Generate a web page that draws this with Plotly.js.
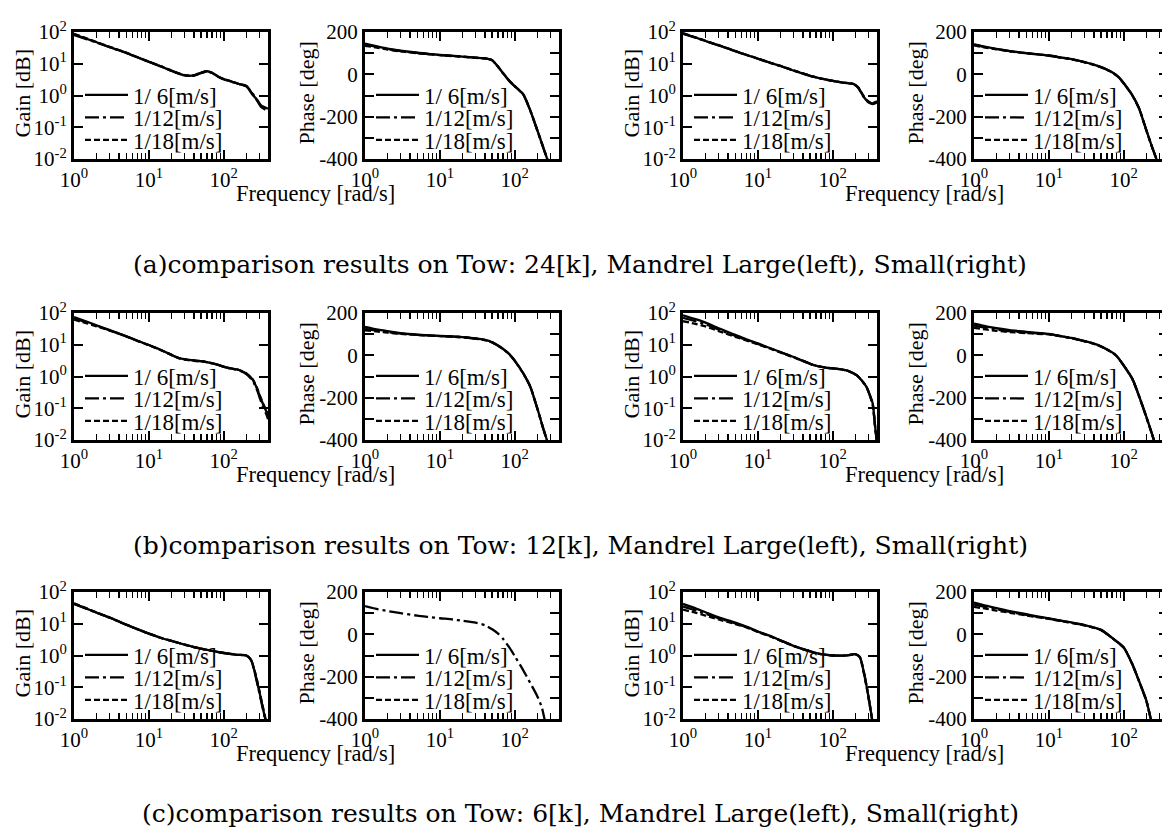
<!DOCTYPE html>
<html><head><meta charset="utf-8">
<script src="https://cdn.plot.ly/plotly-3.0.1.min.js"></script>
<style>html,body{margin:0;padding:0;overflow:hidden;background:#fff}#chart{width:1170px;height:834px}</style>
</head><body><div id="chart"></div>
<script>
// ---------- text / ticks ----------
const seriesNames = ['1/ 6[m/s]', '1/12[m/s]', '1/18[m/s]'];
const freqTicks = [1, 10, 100];
const freqTickText = ['10<sup>0</sup>', '10<sup>1</sup>', '10<sup>2</sup>'];
const freqMinorTicks = [2, 3, 4, 5, 6, 7, 8, 9, 20, 30, 40, 50, 60, 70, 80, 90, 200, 300];
const gainTicks = [0.01, 0.1, 1, 10, 100];
const gainTickText = ['10<sup>-2</sup>', '10<sup>-1</sup>', '10<sup>0</sup>', '10<sup>1</sup>', '10<sup>2</sup>'];
const phaseTicks = [-400, -200, 0, 200];
const phaseTickText = ['-400', '-200', '0', '200'];
const phaseMinorTicks = [-300, -100, 100];
const captions = [
  '(a)comparison results on Tow: 24[k], Mandrel Large(left), Small(right)',
  '(b)comparison results on Tow: 12[k], Mandrel Large(left), Small(right)',
  '(c)comparison results on Tow: 6[k], Mandrel Large(left), Small(right)'
];

// ---------- (a) Tow 24[k] ----------
const fA_LG = [1, 1.5, 2, 3, 5, 7, 10, 15, 20, 30, 40, 50, 60, 70, 85, 100, 130, 160, 200, 240, 280, 320, 360, 390];
const A_LG_6  = [85, 60, 47.5, 33.5, 22, 16, 11.5, 8.0, 6.0, 4.3, 4.3, 5.3, 5.8, 5.2, 3.9, 3.3, 2.7, 2.3, 2.0, 1.1, 0.72, 0.47, 0.42, 0.38];
const A_LG_12 = [80, 58, 46.5, 33, 21.8, 16, 11.6, 8.1, 6.1, 4.3, 4.2, 5.1, 5.7, 5.2, 3.9, 3.2, 2.7, 2.3, 2.0, 1.2, 0.68, 0.42, 0.36, 0.33];
const A_LG_18 = [88, 62, 48.5, 34, 22.3, 16.2, 11.6, 8.0, 6.0, 4.4, 4.3, 5.2, 5.8, 5.1, 3.8, 3.3, 2.7, 2.3, 1.95, 1.15, 0.7, 0.45, 0.4, 0.36];

const fA_LP = [1, 1.5, 2, 3, 5, 7, 10, 15, 20, 30, 40, 45, 50, 60, 70, 85, 100, 130, 160, 200, 240, 280];
const A_LP_6  = [145, 131, 122, 112, 102, 97, 92, 87, 84, 79, 76, 72, 67, 36, 5, -32, -56, -95, -168, -264, -345, -414];
const A_LP_12 = [140, 128, 120, 110, 101, 96, 91, 87, 84, 79, 75, 71, 66, 35, 4, -32, -57, -96, -168, -265, -346, -415];
const A_LP_18 = [135, 125, 117, 108, 100, 95, 91, 86, 83, 78, 75, 71, 66, 36, 5, -31, -56, -95, -167, -263, -344, -413];

const fA_SG = [1, 1.5, 2, 3, 5, 7, 10, 15, 20, 30, 40, 55, 70, 100, 130, 160, 190, 220, 250, 280, 310, 340, 370, 390];
const A_SG_6  = [90, 66, 52, 38, 25, 19, 14.5, 10.5, 8.6, 6.1, 4.9, 3.9, 3.4, 2.9, 2.6, 2.45, 2.3, 1.75, 1.05, 0.72, 0.6, 0.56, 0.6, 0.63];
const A_SG_12 = [88, 65, 51.5, 37.5, 24.8, 19, 14.4, 10.4, 8.5, 6.1, 4.9, 3.9, 3.4, 2.9, 2.6, 2.45, 2.3, 1.72, 1.0, 0.7, 0.58, 0.54, 0.57, 0.6];
const A_SG_18 = [92, 67, 52.5, 38.5, 25.2, 19.2, 14.6, 10.5, 8.6, 6.2, 5.0, 3.9, 3.4, 2.9, 2.6, 2.45, 2.3, 1.78, 1.08, 0.74, 0.62, 0.58, 0.62, 0.65];

const fA_SP = [1, 1.5, 2, 3, 5, 7, 10, 15, 20, 30, 40, 50, 60, 70, 85, 100, 130, 160, 200, 240, 280];
const A_SP_6  = [142, 128, 120, 110, 100, 95, 89, 79, 72, 58, 46, 34, 22, 10, -12, -42, -98, -160, -263, -345, -410];
const A_SP_12 = [140, 127, 120, 110, 100, 95, 89, 79, 72, 58, 46, 34, 22, 10, -12, -42, -98, -160, -263, -345, -410];
const A_SP_18 = [137, 125, 118, 109, 99, 94, 88, 78, 71, 57, 45, 33, 21, 9, -13, -43, -99, -161, -264, -346, -411];

// ---------- (b) Tow 12[k] ----------
const fB_LG = [1, 1.5, 2, 3, 5, 7, 10, 15, 20, 26, 40, 57, 80, 110, 160, 200, 245, 280, 310, 340, 370, 390];
const B_LG_6  = [75, 53, 41, 29, 18.5, 13.5, 9.8, 6.6, 4.8, 3.7, 3.2, 2.9, 2.4, 1.9, 1.6, 1.25, 0.78, 0.4, 0.21, 0.125, 0.08, 0.054];
const B_LG_12 = [68, 50, 40, 28.5, 18.3, 13.4, 9.8, 6.6, 4.8, 3.7, 3.2, 2.9, 2.4, 1.9, 1.55, 1.2, 0.72, 0.36, 0.18, 0.1, 0.065, 0.045];
const B_LG_18 = [62, 47, 38, 28, 18.2, 13.3, 9.7, 6.5, 4.8, 3.7, 3.1, 2.9, 2.4, 1.9, 1.6, 1.25, 0.8, 0.42, 0.22, 0.13, 0.085, 0.06];

const fB_LP = [1, 1.5, 2, 3, 5, 7, 10, 15, 20, 30, 40, 50, 60, 70, 85, 100, 130, 160, 200, 240, 280];
const B_LP_6  = [135, 121, 114, 105, 98, 95, 92, 89, 86, 80, 73, 62, 46, 30, 5, -25, -85, -145, -250, -345, -420];
const B_LP_12 = [125, 116, 110, 103, 97, 94, 91, 88, 85, 79, 72, 61, 45, 29, 4, -26, -86, -146, -251, -346, -421];
const B_LP_18 = [118, 112, 107, 101, 96, 93, 91, 88, 85, 79, 72, 61, 45, 29, 5, -25, -85, -145, -250, -345, -420];

const fB_SG = [1, 1.5, 2, 3, 5, 7, 10, 15, 20, 30, 40, 55, 80, 124, 160, 208, 250, 281, 310, 342, 370, 390];
const B_SG_6  = [85, 63, 50, 33, 20.5, 14.8, 11, 7.6, 5.9, 4.1, 3.1, 2.3, 1.9, 1.7, 1.5, 1.1, 0.7, 0.48, 0.28, 0.14, 0.024, 0.008];
const B_SG_12 = [70, 54, 44, 30, 19, 14.2, 10.6, 7.5, 5.8, 4.1, 3.1, 2.3, 1.9, 1.7, 1.5, 1.1, 0.7, 0.48, 0.27, 0.13, 0.022, 0.007];
const B_SG_18 = [55, 45, 38, 27, 17.8, 13.6, 10.3, 7.4, 5.7, 4.0, 3.1, 2.3, 1.9, 1.7, 1.5, 1.1, 0.7, 0.47, 0.27, 0.13, 0.023, 0.008];

const fB_SP = [1, 1.5, 2, 3, 5, 7, 10, 15, 20, 30, 40, 50, 60, 70, 80, 100, 130, 150, 200, 250, 270];
const B_SP_6  = [150, 136, 128, 119, 111, 106, 101, 90, 82, 67, 55, 42, 28, 14, -2, -48, -110, -165, -290, -395, -440];
const B_SP_12 = [140, 129, 122, 114, 108, 104, 100, 90, 82, 67, 55, 42, 28, 14, -2, -48, -110, -165, -290, -395, -440];
const B_SP_18 = [130, 121, 116, 110, 105, 102, 99, 89, 81, 66, 54, 41, 27, 13, -3, -49, -111, -166, -291, -396, -441];

// ---------- (c) Tow 6[k] ----------
const fC_LG = [1, 1.5, 2, 3, 5, 7, 10, 15, 20, 30, 40, 60, 100, 150, 200, 230, 260, 290, 320, 350, 380];
const C_LG_6  = [43, 29.5, 22.4, 15.6, 9.3, 6.8, 4.9, 3.5, 2.9, 2.2, 1.85, 1.5, 1.2, 1.05, 1.0, 0.75, 0.3, 0.1, 0.035, 0.013, 0.006];
const C_LG_12 = [42, 29, 22.2, 15.5, 9.3, 6.8, 4.9, 3.5, 2.9, 2.2, 1.85, 1.5, 1.2, 1.05, 1.0, 0.73, 0.28, 0.09, 0.032, 0.012, 0.005];
const C_LG_18 = [44, 30, 22.6, 15.7, 9.4, 6.8, 4.9, 3.5, 2.9, 2.2, 1.85, 1.5, 1.2, 1.05, 1.0, 0.76, 0.31, 0.11, 0.037, 0.014, 0.006];

const fC_LP = [1, 1.5, 2, 3, 5, 7, 10, 15, 20, 30, 40, 50, 60, 70, 85, 100, 130, 160, 200, 230, 250, 270];
const C_LP_6  = [];   // not drawn in the reference panel
const C_LP_12 = [133, 118, 110, 100, 88, 82, 76, 70, 64, 55, 43, 24, 3, -22, -63, -103, -170, -228, -292, -345, -400, -440];
const C_LP_18 = [];   // not drawn in the reference panel

const fC_SG = [1, 1.5, 2, 3, 5, 7, 10, 15, 20, 30, 50, 70, 100, 150, 200, 230, 260, 290, 320, 340, 370];
const C_SG_6  = [42, 30, 23, 15.8, 10.8, 8.1, 5.7, 4.0, 3.0, 2.0, 1.35, 1.1, 1.0, 1.0, 1.1, 0.9, 0.3, 0.08, 0.02, 0.008, 0.003];
const C_SG_12 = [35, 26, 20.5, 14.8, 10.3, 7.9, 5.6, 4.0, 3.0, 2.0, 1.35, 1.1, 1.0, 1.0, 1.1, 0.9, 0.3, 0.08, 0.02, 0.008, 0.003];
const C_SG_18 = [28, 22, 18, 13.6, 9.8, 7.7, 5.5, 3.9, 2.95, 2.0, 1.33, 1.1, 1.0, 1.0, 1.08, 0.88, 0.28, 0.075, 0.019, 0.008, 0.003];

const fC_SP = [1, 1.5, 2, 3, 5, 7, 10, 15, 20, 30, 50, 70, 100, 130, 150, 200, 230, 250];
const C_SP_6  = [150, 134, 124, 110, 95, 85, 75, 64, 56, 44, 21, -17, -62, -140, -195, -312, -400, -450];
const C_SP_12 = [140, 127, 118, 106, 92, 83, 74, 63, 55, 43, 20, -17, -62, -140, -195, -312, -400, -450];
const C_SP_18 = [130, 120, 112, 102, 89, 81, 73, 62, 54, 42, 20, -18, -63, -141, -196, -313, -401, -451];

// ---------- assemble ----------
const panels = [
  {f: fA_LG, s: [A_LG_6, A_LG_12, A_LG_18], kind: 'gain'},
  {f: fA_LP, s: [A_LP_6, A_LP_12, A_LP_18], kind: 'phase'},
  {f: fA_SG, s: [A_SG_6, A_SG_12, A_SG_18], kind: 'gain'},
  {f: fA_SP, s: [A_SP_6, A_SP_12, A_SP_18], kind: 'phase'},
  {f: fB_LG, s: [B_LG_6, B_LG_12, B_LG_18], kind: 'gain'},
  {f: fB_LP, s: [B_LP_6, B_LP_12, B_LP_18], kind: 'phase'},
  {f: fB_SG, s: [B_SG_6, B_SG_12, B_SG_18], kind: 'gain'},
  {f: fB_SP, s: [B_SP_6, B_SP_12, B_SP_18], kind: 'phase'},
  {f: fC_LG, s: [C_LG_6, C_LG_12, C_LG_18], kind: 'gain'},
  {f: fC_LP, s: [C_LP_6, C_LP_12, C_LP_18], kind: 'phase'},
  {f: fC_SG, s: [C_SG_6, C_SG_12, C_SG_18], kind: 'gain'},
  {f: fC_SP, s: [C_SP_6, C_SP_12, C_SP_18], kind: 'phase'}
];

const W = 1170, H = 834;
const colLeft = [74, 365, 683, 974];
const rowTop = [32, 313, 592];
const plotW = 194, plotH = 127;
const FONT = 'Liberation Serif, Times New Roman, serif';
const dashes = ['solid', '14px,4px,3px,4px', '6px,3px'];

const px = v => v / W;
const py = v => 1 - v / H;

const traces = [];
const layout = {
  width: W, height: H,
  margin: {l: 0, r: 0, t: 0, b: 0},
  paper_bgcolor: '#fff', plot_bgcolor: '#fff',
  font: {family: FONT, size: 21, color: '#000'},
  showlegend: true,
  annotations: []
};

let legendCount = 0;
panels.forEach((p, i) => {
  const r = Math.floor(i / 4), c = i % 4;
  const n = i + 1;
  const xa = 'xaxis' + (n === 1 ? '' : n), ya = 'yaxis' + (n === 1 ? '' : n);
  const xr = 'x' + (n === 1 ? '' : n), yr = 'y' + (n === 1 ? '' : n);
  p.s.forEach((vals, k) => {
    legendCount++;
    const lg = 'legend' + (legendCount === 1 ? '' : legendCount);
    const empty = vals.length === 0;
    traces.push({
      type: 'scatter', mode: 'lines',
      x: empty ? [null] : p.f, y: empty ? [null] : vals,
      xaxis: xr, yaxis: yr, legend: lg,
      name: seriesNames[k],
      line: {color: '#000', width: 2.3, dash: dashes[k], shape: 'spline', smoothing: 0.6}
    });
    layout[lg] = {
      x: px(colLeft[c] + 6), y: py(rowTop[r] + 63 + k * 22.5),
      xanchor: 'left', yanchor: 'middle',
      bgcolor: 'rgba(0,0,0,0)', borderwidth: 0,
      font: {family: FONT, size: 23, color: '#000'},
      itemwidth: 43
    };
  });
  const common = {
    showline: true, linewidth: 3, linecolor: '#000', mirror: 'ticks',
    ticks: 'inside', ticklen: 9, tickwidth: 2, tickcolor: '#000',
    showgrid: false, zeroline: false, fixedrange: true,
    tickfont: {family: FONT, size: 21, color: '#000'}
  };
  layout[xa] = Object.assign({}, common, {
    type: 'log', range: [0, Math.log10(390)],
    domain: [px(colLeft[c]), px(colLeft[c] + plotW)],
    anchor: yr,
    tickmode: 'array', tickvals: freqTicks, ticktext: freqTickText,
    minor: {ticks: 'inside', ticklen: 6, tickwidth: 1.5, tickcolor: '#000', tickmode: 'array', tickvals: freqMinorTicks, showgrid: false}
  });
  const yDom = [py(rowTop[r] + plotH), py(rowTop[r])];
  if (p.kind === 'gain') {
    layout[ya] = Object.assign({}, common, {
      type: 'log', range: [-2, 2], domain: yDom, anchor: xr,
      tickmode: 'array', tickvals: gainTicks, ticktext: gainTickText
    });
  } else {
    layout[ya] = Object.assign({}, common, {
      type: 'linear', range: [-400, 200], domain: yDom, anchor: xr,
      tickmode: 'array', tickvals: phaseTicks, ticktext: phaseTickText,
      minor: {ticks: 'inside', ticklen: 9, tickwidth: 2, tickcolor: '#000', tickmode: 'array', tickvals: phaseMinorTicks, showgrid: false}
    });
  }
  // axis titles
  const isGain = p.kind === 'gain';
  layout.annotations.push({
    xref: 'paper', yref: 'paper',
    x: px(colLeft[c] - (isGain ? 52 : 59)), y: py(rowTop[r] + plotH / 2 - 2),
    text: isGain ? 'Gain [dB]' : 'Phase [deg]', textangle: -90,
    showarrow: false, xanchor: 'center', yanchor: 'middle',
    font: {family: FONT, size: 22, color: '#000'}
  });
});

// Frequency titles
[0, 1, 2].forEach(r => {
  [[74, 559], [683, 1168]].forEach(pair => {
    layout.annotations.push({
      xref: 'paper', yref: 'paper',
      x: px((pair[0] + pair[1]) / 2 - 1), y: py(rowTop[r] + plotH + 34),
      text: 'Frequency [rad/s]', showarrow: false,
      xanchor: 'center', yanchor: 'middle',
      font: {family: FONT, size: 22.5, color: '#000'}
    });
  });
});

// captions
const capY = [264, 545, 813];
captions.forEach((t, r) => {
  layout.annotations.push({
    xref: 'paper', yref: 'paper', x: px(580), y: py(capY[r]),
    text: t, showarrow: false, xanchor: 'center', yanchor: 'middle',
    font: {family: 'DejaVu Serif, serif', size: 25, color: '#000'}
  });
});

Plotly.newPlot('chart', traces, layout, {staticPlot: true, displayModeBar: false});
</script></body></html>
